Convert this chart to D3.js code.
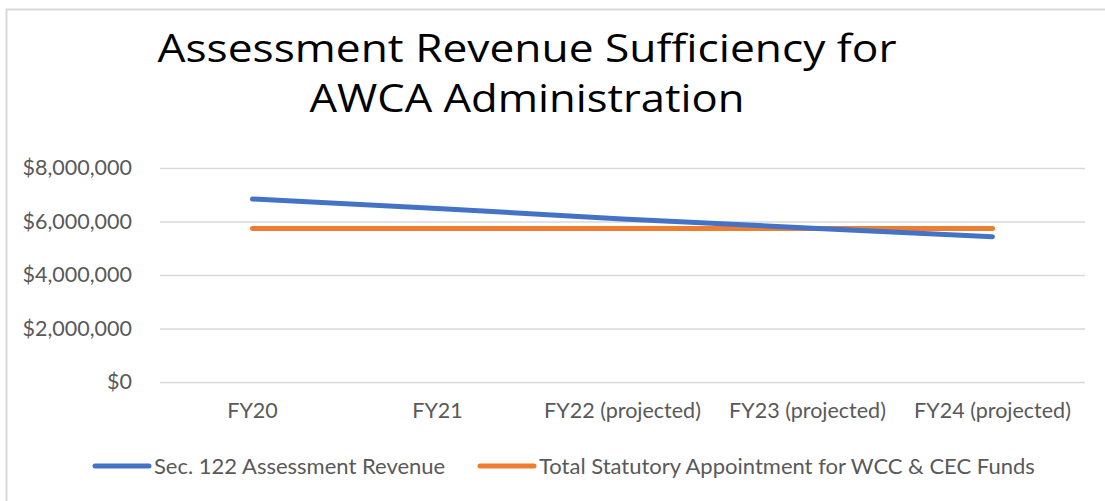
<!DOCTYPE html>
<html>
<head>
<meta charset="utf-8">
<script src="https://cdn.jsdelivr.net/npm/d3@7"></script>
<style>
  body { margin: 0; background: #fff; }
  svg { display: block; }
</style>
</head>
<body>
<div id="chart"></div>
<script>
// chart data
const categories = ['FY20', 'FY21', 'FY22 (projected)', 'FY23 (projected)', 'FY24 (projected)'];
const revenue = [6840000, 6490000, 6090000, 5760000, 5430000];
const appointment = [5740000, 5740000, 5740000, 5740000, 5740000];
const seriesNames = ['Sec. 122 Assessment Revenue', 'Total Statutory Appointment for WCC & CEC Funds'];
const yTicks = [0, 2000000, 4000000, 6000000, 8000000];
const titleLines = ['Assessment Revenue Sufficiency for', 'AWCA Administration'];

const width = 1105;
const height = 501;
const margin = { top: 168, right: 20, bottom: 119, left: 160 };
const colors = ['#4472C4', '#ED7D31'];
const labelFont = '21.5px';

const svg = d3.select('#chart')
    .append('svg')
    .attr('width', width)
    .attr('height', height);

// chart border
svg.append('rect')
    .attr('x', 6.5)
    .attr('y', 9.5)
    .attr('width', width + 10)
    .attr('height', height + 10)
    .attr('fill', 'none')
    .attr('stroke', '#d9d9d9')
    .attr('stroke-width', 2);

let x = d3.scaleBand()
    .domain(categories)
    .range([margin.left, width - margin.right]);

let y = d3.scaleLinear()
    .domain([0, 8000000])
    .range([height - margin.bottom, margin.top]);

// gridlines + y labels
let yAxis = g => g
    .attr('transform', `translate(${margin.left},0)`)
    .call(d3.axisLeft(y)
        .tickValues(yTicks)
        .tickSize(-(width - margin.right - margin.left))
        .tickPadding(28)
        .tickFormat(d => '$' + d3.format(',')(d)))
    .call(g => g.select('.domain').remove())
    .call(g => g.selectAll('line').attr('stroke', '#d9d9d9').attr('stroke-width', 1.3))
    .call(g => g.selectAll('text')
        .attr('fill', '#595959')
        .style('font-family', 'Lato')
        .style('font-size', labelFont));

svg.append('g').call(yAxis);

// x labels
let xAxis = g => g
    .attr('transform', `translate(0,${height - margin.bottom})`)
    .call(d3.axisBottom(x).tickSize(0).tickPadding(21))
    .call(g => g.select('.domain').remove())
    .call(g => g.selectAll('text')
        .attr('fill', '#595959')
        .style('font-family', 'Lato')
        .style('font-size', labelFont));

svg.append('g').call(xAxis);

// lines
let line = d3.line()
    .x((d, i) => x(categories[i]) + x.bandwidth() / 2)
    .y(d => y(d));

[appointment, revenue].forEach((s, k) => {
    svg.append('path')
        .datum(s)
        .attr('fill', 'none')
        .attr('stroke', colors[1 - k])
        .attr('stroke-width', 5)
        .attr('stroke-linecap', 'round')
        .attr('stroke-linejoin', 'round')
        .attr('d', line);
});

// title
titleLines.forEach((t, i) => {
    svg.append('text')
        .attr('x', 527)
        .attr('y', 62 + i * 50)
        .attr('text-anchor', 'middle')
        .attr('fill', '#000')
        .style('font-family', 'Open Sans')
        .style('font-size', '38px')
        .attr('textLength', i === 0 ? 739 : 435)
        .attr('lengthAdjust', 'spacingAndGlyphs')
        .text(t);
});

// legend
let legendX = [95, 480];
seriesNames.forEach((name, i) => {
    let g = svg.append('g')
        .attr('transform', `translate(${legendX[i]},466)`);
    g.append('line')
        .attr('x1', 0).attr('x2', 54)
        .attr('stroke', colors[i])
        .attr('stroke-width', 5)
        .attr('stroke-linecap', 'round');
    g.append('text')
        .attr('x', 59)
        .attr('dy', '0.35em')
        .attr('fill', '#595959')
        .style('font-family', 'Lato')
        .style('font-size', '22px')
        .text(name);
});
</script>
</body>
</html>
